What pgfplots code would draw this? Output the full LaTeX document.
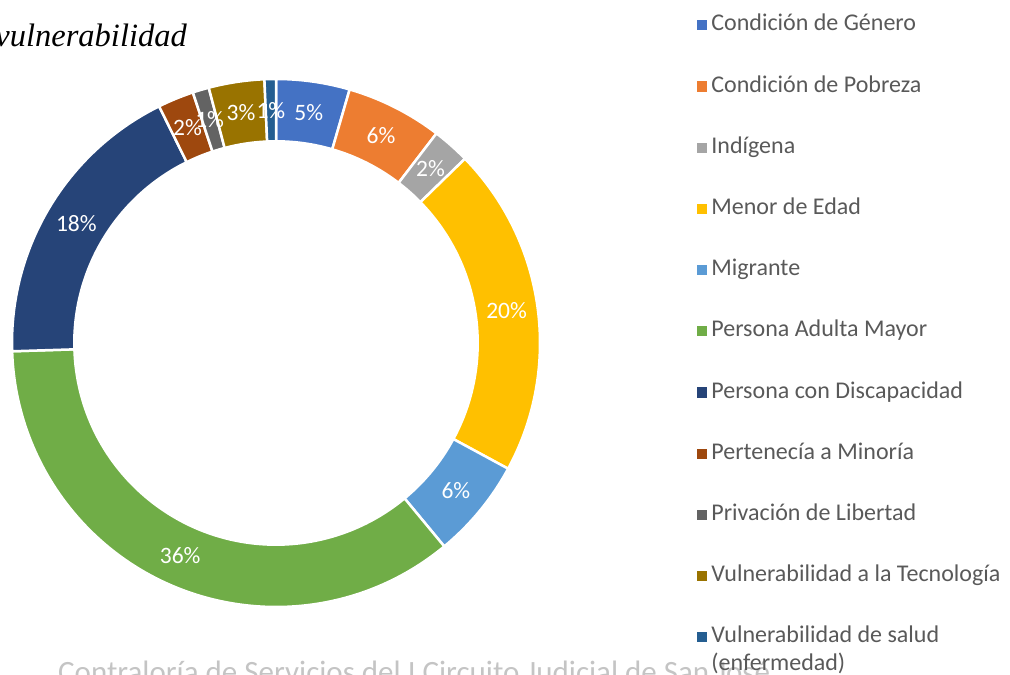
\documentclass[border=0pt]{standalone}
\usepackage{pgfplots}
\pgfplotsset{compat=1.18}
\usepackage{pgfplotstable}
\usepackage{fontspec}
\setmainfont{Carlito}
\newfontfamily\titlefont{Liberation Serif}

\definecolor{c0}{HTML}{4472C4}
\definecolor{c1}{HTML}{ED7D31}
\definecolor{c2}{HTML}{A5A5A5}
\definecolor{c3}{HTML}{FFC000}
\definecolor{c4}{HTML}{5B9BD5}
\definecolor{c5}{HTML}{70AD47}
\definecolor{c6}{HTML}{264478}
\definecolor{c7}{HTML}{9E480E}
\definecolor{c8}{HTML}{636363}
\definecolor{c9}{HTML}{997300}
\definecolor{c10}{HTML}{255E91}
\definecolor{legtext}{HTML}{595959}
\definecolor{wmgray}{HTML}{C4C4C4}

% share (%) of each condition, clockwise from the top
\pgfplotstableread[col sep=comma]{
idx,value,label
0,4.5,5
1,5.9,6
2,2.3,2
3,20.2,20
4,6.1,6
5,35.5,36
6,18.2,18
7,2.2,2
8,1.0,1
9,3.4,3
10,0.7,1
}\data

\def\cum{0}
\pgfplotsforeachungrouped \i in {0,...,10}{%
  \pgfplotstablegetelem{\i}{value}\of\data
  \let\v\pgfplotsretval
  \pgfmathsetmacro\sa{90-3.6*\cum}%
  \pgfmathsetmacro\cum{\cum+\v}%
  \pgfmathsetmacro\ea{90-3.6*\cum}%
  \pgfmathsetmacro\ma{(\sa+\ea)/2}%
  \expandafter\xdef\csname sa\i\endcsname{\sa}%
  \expandafter\xdef\csname ea\i\endcsname{\ea}%
  \expandafter\xdef\csname ma\i\endcsname{\ma}%
  \pgfplotstablegetelem{\i}{label}\of\data
  \expandafter\xdef\csname lb\i\endcsname{\pgfplotsretval}%
}

\pgfplotsset{legsq/.style={only marks, mark=square*, mark size=4.6pt, color=#1, mark options={draw=#1, fill=#1, line width=0pt}}}

\begin{document}
\begin{tikzpicture}
\path[use as bounding box] (0pt,0pt) rectangle (1010pt,675pt);
\node[anchor=base west, text=wmgray, font=\fontsize{31}{36}\selectfont, inner sep=0pt]
  at (58pt,-8pt) {Contraloría de Servicios del I Circuito Judicial de San José};
\node[anchor=base east, font=\titlefont\itshape\fontsize{32.5}{38}\selectfont, inner sep=0pt]
  at (187pt,628pt) {vulnerabilidad};
\begin{axis}[
  at={(12pt,68pt)}, anchor=south west,
  x=264pt, y=264pt, xmin=-1, xmax=1, ymin=-1, ymax=1,
  hide axis, clip=false,
  legend cell align=left,
  legend style={at={(1.2973,1.1237)}, anchor=north west, draw=none, fill=none,
    inner sep=0pt, row sep=38.2pt,
    font=\fontsize{24}{29}\selectfont\color{legtext},
    nodes={inner sep=0pt, text height=17pt, text depth=6pt},
    /tikz/every odd column/.append style={column sep=5pt}},
]
\pgfplotsinvokeforeach{0,...,10}{
  \fill[c#1, draw=white, line width=2.5pt]
    (axis cs:{cos(\csname sa#1\endcsname)},{sin(\csname sa#1\endcsname)})
    arc[start angle=\csname sa#1\endcsname, end angle=\csname ea#1\endcsname, radius=264pt]
    -- (axis cs:{0.764*cos(\csname ea#1\endcsname)},{0.764*sin(\csname ea#1\endcsname)})
    arc[start angle=\csname ea#1\endcsname, end angle=\csname sa#1\endcsname, radius=201.7pt]
    -- cycle;
}
\pgfplotsinvokeforeach{0,...,10}{
  \node[text=white, font=\fontsize{23.5}{28}\selectfont, inner sep=0pt]
    at (axis cs:{0.882*cos(\csname ma#1\endcsname)},{0.882*sin(\csname ma#1\endcsname)})
    {\csname lb#1\endcsname\%};
}
\addlegendimage{legsq=c0}
\addlegendentry{Condición de Género}
\addlegendimage{legsq=c1}
\addlegendentry{Condición de Pobreza}
\addlegendimage{legsq=c2}
\addlegendentry{Indígena}
\addlegendimage{legsq=c3}
\addlegendentry{Menor de Edad}
\addlegendimage{legsq=c4}
\addlegendentry{Migrante}
\addlegendimage{legsq=c5}
\addlegendentry{Persona Adulta Mayor}
\addlegendimage{legsq=c6}
\addlegendentry{Persona con Discapacidad}
\addlegendimage{legsq=c7}
\addlegendentry{Pertenecía a Minoría}
\addlegendimage{legsq=c8}
\addlegendentry{Privación de Libertad}
\addlegendimage{legsq=c9}
\addlegendentry{Vulnerabilidad a la Tecnología}
\addlegendimage{legsq=c10}
\addlegendentry{\begin{tabular}[t]{@{}l@{}}Vulnerabilidad de salud\\[-1pt](enfermedad)\end{tabular}}
\end{axis}
\end{tikzpicture}
\end{document}
